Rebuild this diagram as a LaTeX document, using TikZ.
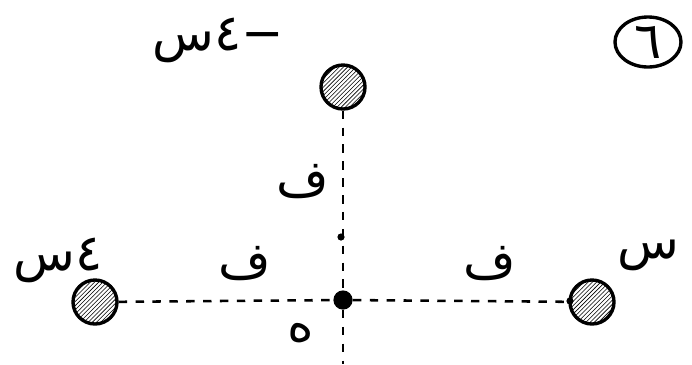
\documentclass[tikz,border=0pt]{standalone}
\usepackage{fontspec}
\newfontfamily\arabicfont[Script=Arabic]{DejaVu Sans}
\TeXXeTstate=1
\usetikzlibrary{patterns,positioning,shapes.geometric}
\tikzset{
  charge/.style={circle,draw,line width=2.4pt,minimum size=1.1cm,inner sep=0pt,
    pattern=north east lines},
  centre/.style={circle,fill,minimum size=0.48cm,inner sep=0pt},
  blob/.style={circle,fill,minimum size=0.18cm,inner sep=0pt},
  lbl/.style={font=\arabicfont\fontsize{36}{42}\selectfont,inner sep=0pt},
  axis/.style={line width=1.8pt,dash pattern=on 6pt off 6pt},
}

\begin{document}
\begin{tikzpicture}[x=0.025cm,y=-0.025cm]
  \useasboundingbox (0,0) rectangle (692,364);
  % charges
  \node[charge] (qtop) at (343,87) {};
  \node[charge] (qleft) at (95,302) {};
  \node[charge] (qright) at (592,302) {};
  \node[centre] (c) at (343,300) {};
  \coordinate (bot) at (343,364);
  % dashed distances
  \draw[axis] (qleft) -- (c);
  \draw[axis] (c) -- (qright);
  \draw[axis] (qtop) -- (c);
  \draw[axis] (c) -- (bot);
  \node[blob] (m1) at (341,237) {};
  \node[blob] (m2) at (570,301) {};
  % labels
  \node[lbl] (ltop) at (218,40) {\beginR −٤س\endR};
  \node[lbl] (lleft) at (58,260) {\beginR ٤س\endR};
  \node[lbl] (lright) at (648,255) {\beginR س\endR};
  \node[lbl] (fv) at (303,182) {\beginR ف\endR};
  \node[lbl] (fl) at (245,264) {\beginR ف\endR};
  \node[lbl] (fr) at (490,264) {\beginR ف\endR};
  \node[lbl] (h) at (301,333) {\beginR ه\endR};
  \node[lbl,draw,ellipse,line width=2.4pt,minimum width=1.65cm,minimum height=1.25cm] (num) at (648,42) {\beginR ٦\endR};
\end{tikzpicture}
\end{document}
